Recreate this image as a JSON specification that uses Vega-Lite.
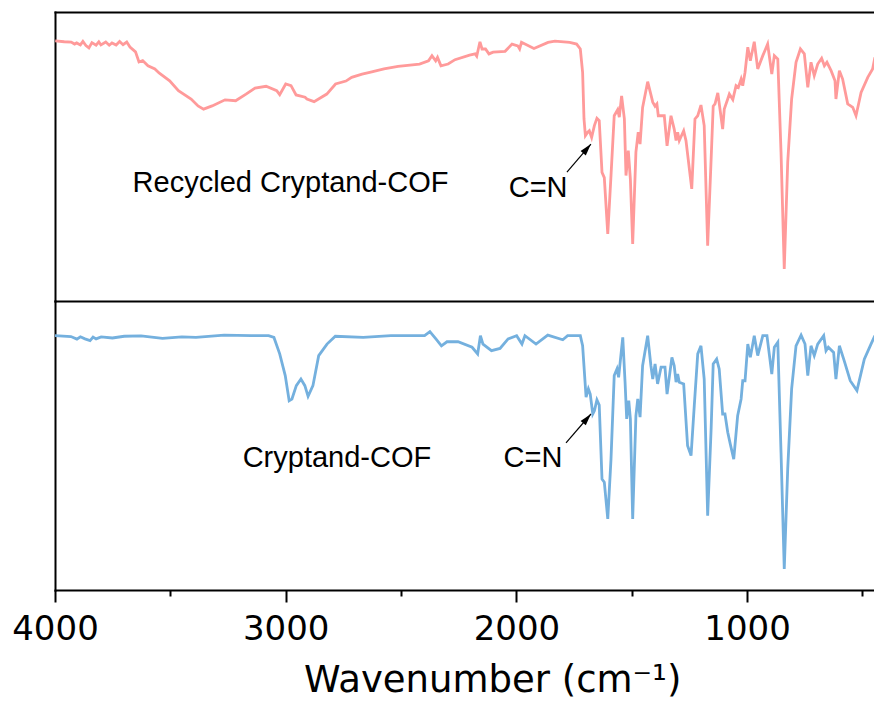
{
  "$schema": "https://vega.github.io/schema/vega-lite/v6.json",
  "padding": {"left": 11, "top": 12, "right": 0, "bottom": 4},
  "background": "white",
  "spacing": 0,
  "title": {"text": "Wavenumber (cm⁻¹)", "orient": "bottom", "anchor": "start", "frame": "group", "dx": 249, "offset": 17, "fontSize": 37, "font": "DejaVu Sans", "fontWeight": "normal", "color": "black", "baseline": "top"},
  "config": {
    "view": {"stroke": null},
    "font": "Liberation Sans",
    "axis": {"domainColor": "black", "domainWidth": 2, "domainCap": "square", "tickColor": "black", "tickWidth": 2, "grid": false, "labelColor": "black", "titleColor": "black", "labelFont": "DejaVu Sans", "titleFont": "DejaVu Sans"}
  },
  "datasets": {
    "recycled": [
      {"wavenumber":3999,"T":90.0},{"wavenumber":3960,"T":89.7},{"wavenumber":3930,"T":89.6},{"wavenumber":3915,"T":88.9},{"wavenumber":3906,"T":89.3},{"wavenumber":3890,"T":88.6},{"wavenumber":3879,"T":89.8},{"wavenumber":3866,"T":88.4},{"wavenumber":3853,"T":87.6},{"wavenumber":3840,"T":89.4},{"wavenumber":3822,"T":88.5},{"wavenumber":3810,"T":89.7},{"wavenumber":3801,"T":88.6},{"wavenumber":3780,"T":89.6},{"wavenumber":3765,"T":88.5},{"wavenumber":3753,"T":89.3},{"wavenumber":3735,"T":88.6},{"wavenumber":3720,"T":89.8},{"wavenumber":3705,"T":88.7},{"wavenumber":3689,"T":89.6},{"wavenumber":3675,"T":87.9},{"wavenumber":3651,"T":86.2},{"wavenumber":3636,"T":82.7},{"wavenumber":3620,"T":83.2},{"wavenumber":3597,"T":81.4},{"wavenumber":3567,"T":80.3},{"wavenumber":3549,"T":78.9},{"wavenumber":3503,"T":76.2},{"wavenumber":3465,"T":72.8},{"wavenumber":3410,"T":69.9},{"wavenumber":3380,"T":67.5},{"wavenumber":3356,"T":66.4},{"wavenumber":3319,"T":67.5},{"wavenumber":3263,"T":69.6},{"wavenumber":3217,"T":69.3},{"wavenumber":3172,"T":71.6},{"wavenumber":3133,"T":73.7},{"wavenumber":3085,"T":74.3},{"wavenumber":3039,"T":72.8},{"wavenumber":3026,"T":71.4},{"wavenumber":3000,"T":75.1},{"wavenumber":2977,"T":74.5},{"wavenumber":2955,"T":71.3},{"wavenumber":2916,"T":70.5},{"wavenumber":2908,"T":69.9},{"wavenumber":2877,"T":69.0},{"wavenumber":2822,"T":71.6},{"wavenumber":2784,"T":75.1},{"wavenumber":2739,"T":76.1},{"wavenumber":2714,"T":77.4},{"wavenumber":2669,"T":78.5},{"wavenumber":2636,"T":79.1},{"wavenumber":2574,"T":80.3},{"wavenumber":2513,"T":81.2},{"wavenumber":2420,"T":82.0},{"wavenumber":2381,"T":83.1},{"wavenumber":2366,"T":84.9},{"wavenumber":2350,"T":83.1},{"wavenumber":2342,"T":84.3},{"wavenumber":2327,"T":81.4},{"wavenumber":2296,"T":82.0},{"wavenumber":2266,"T":83.5},{"wavenumber":2203,"T":85.1},{"wavenumber":2179,"T":85.5},{"wavenumber":2172,"T":84.7},{"wavenumber":2158,"T":89.7},{"wavenumber":2149,"T":87.2},{"wavenumber":2134,"T":87.2},{"wavenumber":2119,"T":85.5},{"wavenumber":2101,"T":86.1},{"wavenumber":2049,"T":86.4},{"wavenumber":2019,"T":88.9},{"wavenumber":1994,"T":88.3},{"wavenumber":1986,"T":87.2},{"wavenumber":1978,"T":89.5},{"wavenumber":1924,"T":87.4},{"wavenumber":1863,"T":89.5},{"wavenumber":1833,"T":89.9},{"wavenumber":1769,"T":89.5},{"wavenumber":1739,"T":88.9},{"wavenumber":1723,"T":87.2},{"wavenumber":1713,"T":79.1},{"wavenumber":1707,"T":63.0},{"wavenumber":1701,"T":57.2},{"wavenumber":1691,"T":58.4},{"wavenumber":1684,"T":58.9},{"wavenumber":1674,"T":56.6},{"wavenumber":1662,"T":60.7},{"wavenumber":1651,"T":63.2},{"wavenumber":1641,"T":62.4},{"wavenumber":1629,"T":44.5},{"wavenumber":1619,"T":42.7},{"wavenumber":1604,"T":23.2},{"wavenumber":1590,"T":43.4},{"wavenumber":1576,"T":64.1},{"wavenumber":1561,"T":66.2},{"wavenumber":1554,"T":63.6},{"wavenumber":1544,"T":71.0},{"wavenumber":1532,"T":63.0},{"wavenumber":1525,"T":43.4},{"wavenumber":1515,"T":52.0},{"wavenumber":1506,"T":42.2},{"wavenumber":1496,"T":19.7},{"wavenumber":1482,"T":51.5},{"wavenumber":1472,"T":58.4},{"wavenumber":1464,"T":54.3},{"wavenumber":1453,"T":67.0},{"wavenumber":1431,"T":75.9},{"wavenumber":1409,"T":68.8},{"wavenumber":1399,"T":67.4},{"wavenumber":1391,"T":68.2},{"wavenumber":1385,"T":64.1},{"wavenumber":1359,"T":64.1},{"wavenumber":1347,"T":53.7},{"wavenumber":1330,"T":64.1},{"wavenumber":1316,"T":59.5},{"wavenumber":1308,"T":55.5},{"wavenumber":1301,"T":58.4},{"wavenumber":1294,"T":55.5},{"wavenumber":1275,"T":58.9},{"wavenumber":1265,"T":55.5},{"wavenumber":1240,"T":38.8},{"wavenumber":1226,"T":63.0},{"wavenumber":1214,"T":64.1},{"wavenumber":1200,"T":67.8},{"wavenumber":1186,"T":60.7},{"wavenumber":1171,"T":19.1},{"wavenumber":1156,"T":49.1},{"wavenumber":1147,"T":67.4},{"wavenumber":1139,"T":68.2},{"wavenumber":1127,"T":72.0},{"wavenumber":1106,"T":59.5},{"wavenumber":1099,"T":66.4},{"wavenumber":1084,"T":69.9},{"wavenumber":1077,"T":71.6},{"wavenumber":1062,"T":69.7},{"wavenumber":1048,"T":74.5},{"wavenumber":1038,"T":73.9},{"wavenumber":1026,"T":76.8},{"wavenumber":1019,"T":74.5},{"wavenumber":1009,"T":79.1},{"wavenumber":997,"T":87.8},{"wavenumber":986,"T":83.1},{"wavenumber":969,"T":89.7},{"wavenumber":954,"T":80.3},{"wavenumber":932,"T":84.9},{"wavenumber":911,"T":88.9},{"wavenumber":893,"T":78.5},{"wavenumber":882,"T":84.9},{"wavenumber":867,"T":83.7},{"wavenumber":853,"T":51.5},{"wavenumber":839,"T":11.1},{"wavenumber":824,"T":48.0},{"wavenumber":807,"T":69.9},{"wavenumber":788,"T":82.6},{"wavenumber":769,"T":87.2},{"wavenumber":752,"T":85.5},{"wavenumber":737,"T":73.9},{"wavenumber":723,"T":82.6},{"wavenumber":709,"T":78.0},{"wavenumber":694,"T":82.0},{"wavenumber":677,"T":84.0},{"wavenumber":665,"T":81.4},{"wavenumber":654,"T":82.6},{"wavenumber":636,"T":79.7},{"wavenumber":619,"T":76.2},{"wavenumber":615,"T":69.9},{"wavenumber":600,"T":79.7},{"wavenumber":586,"T":76.8},{"wavenumber":564,"T":68.2},{"wavenumber":542,"T":67.0},{"wavenumber":528,"T":64.1},{"wavenumber":506,"T":72.2},{"wavenumber":477,"T":77.4},{"wavenumber":456,"T":80.3},{"wavenumber":446,"T":84.3}
    ],
    "fresh": [
      {"wavenumber":4000,"T":88.0},{"wavenumber":3931,"T":87.7},{"wavenumber":3905,"T":86.8},{"wavenumber":3890,"T":87.6},{"wavenumber":3870,"T":86.9},{"wavenumber":3848,"T":86.3},{"wavenumber":3835,"T":87.5},{"wavenumber":3822,"T":86.9},{"wavenumber":3800,"T":87.6},{"wavenumber":3751,"T":87.2},{"wavenumber":3700,"T":87.8},{"wavenumber":3627,"T":87.9},{"wavenumber":3534,"T":87.1},{"wavenumber":3450,"T":87.6},{"wavenumber":3389,"T":87.4},{"wavenumber":3267,"T":88.2},{"wavenumber":3150,"T":88.0},{"wavenumber":3074,"T":88.0},{"wavenumber":3051,"T":87.4},{"wavenumber":3026,"T":81.7},{"wavenumber":3002,"T":74.2},{"wavenumber":2985,"T":65.5},{"wavenumber":2973,"T":66.1},{"wavenumber":2954,"T":70.7},{"wavenumber":2934,"T":73.0},{"wavenumber":2917,"T":70.7},{"wavenumber":2903,"T":67.0},{"wavenumber":2882,"T":70.7},{"wavenumber":2857,"T":81.1},{"wavenumber":2821,"T":85.1},{"wavenumber":2785,"T":87.8},{"wavenumber":2664,"T":87.4},{"wavenumber":2544,"T":88.0},{"wavenumber":2398,"T":88.0},{"wavenumber":2375,"T":89.4},{"wavenumber":2349,"T":86.9},{"wavenumber":2325,"T":84.5},{"wavenumber":2301,"T":85.9},{"wavenumber":2253,"T":85.9},{"wavenumber":2192,"T":84.0},{"wavenumber":2168,"T":81.7},{"wavenumber":2156,"T":88.0},{"wavenumber":2145,"T":85.1},{"wavenumber":2108,"T":82.8},{"wavenumber":2071,"T":83.6},{"wavenumber":2036,"T":86.9},{"wavenumber":1999,"T":88.0},{"wavenumber":1976,"T":85.1},{"wavenumber":1963,"T":88.0},{"wavenumber":1915,"T":85.1},{"wavenumber":1864,"T":88.2},{"wavenumber":1799,"T":86.6},{"wavenumber":1778,"T":88.0},{"wavenumber":1723,"T":88.0},{"wavenumber":1713,"T":84.5},{"wavenumber":1698,"T":66.7},{"wavenumber":1688,"T":69.6},{"wavenumber":1680,"T":67.8},{"wavenumber":1669,"T":60.9},{"wavenumber":1662,"T":62.0},{"wavenumber":1651,"T":65.8},{"wavenumber":1641,"T":64.0},{"wavenumber":1629,"T":38.4},{"wavenumber":1619,"T":37.3},{"wavenumber":1604,"T":24.6},{"wavenumber":1590,"T":45.3},{"wavenumber":1576,"T":74.2},{"wavenumber":1564,"T":76.5},{"wavenumber":1557,"T":73.6},{"wavenumber":1539,"T":87.4},{"wavenumber":1529,"T":71.9},{"wavenumber":1522,"T":59.2},{"wavenumber":1513,"T":65.5},{"wavenumber":1506,"T":59.2},{"wavenumber":1496,"T":24.6},{"wavenumber":1482,"T":60.3},{"wavenumber":1474,"T":66.1},{"wavenumber":1464,"T":59.8},{"wavenumber":1453,"T":77.6},{"wavenumber":1431,"T":88.0},{"wavenumber":1417,"T":77.6},{"wavenumber":1409,"T":73.0},{"wavenumber":1399,"T":78.2},{"wavenumber":1388,"T":71.3},{"wavenumber":1373,"T":77.1},{"wavenumber":1356,"T":77.1},{"wavenumber":1347,"T":67.8},{"wavenumber":1326,"T":80.5},{"wavenumber":1316,"T":77.6},{"wavenumber":1308,"T":71.9},{"wavenumber":1301,"T":74.7},{"wavenumber":1294,"T":71.9},{"wavenumber":1275,"T":71.3},{"wavenumber":1258,"T":49.9},{"wavenumber":1243,"T":46.5},{"wavenumber":1229,"T":63.8},{"wavenumber":1214,"T":81.7},{"wavenumber":1200,"T":84.5},{"wavenumber":1186,"T":73.0},{"wavenumber":1171,"T":25.7},{"wavenumber":1156,"T":55.7},{"wavenumber":1147,"T":78.2},{"wavenumber":1132,"T":79.9},{"wavenumber":1121,"T":76.5},{"wavenumber":1106,"T":60.9},{"wavenumber":1096,"T":60.9},{"wavenumber":1084,"T":54.6},{"wavenumber":1073,"T":50.5},{"wavenumber":1058,"T":45.3},{"wavenumber":1041,"T":60.3},{"wavenumber":1026,"T":66.1},{"wavenumber":1019,"T":72.4},{"wavenumber":1009,"T":72.4},{"wavenumber":997,"T":85.1},{"wavenumber":986,"T":80.5},{"wavenumber":969,"T":88.0},{"wavenumber":954,"T":81.1},{"wavenumber":932,"T":88.0},{"wavenumber":914,"T":88.0},{"wavenumber":893,"T":74.7},{"wavenumber":882,"T":84.0},{"wavenumber":867,"T":85.7},{"wavenumber":853,"T":47.6},{"wavenumber":839,"T":7.3},{"wavenumber":824,"T":41.9},{"wavenumber":807,"T":69.6},{"wavenumber":788,"T":84.5},{"wavenumber":766,"T":88.2},{"wavenumber":749,"T":85.1},{"wavenumber":737,"T":74.2},{"wavenumber":723,"T":84.5},{"wavenumber":709,"T":81.1},{"wavenumber":694,"T":85.1},{"wavenumber":668,"T":88.0},{"wavenumber":658,"T":82.8},{"wavenumber":648,"T":84.0},{"wavenumber":625,"T":82.2},{"wavenumber":615,"T":73.0},{"wavenumber":600,"T":84.5},{"wavenumber":579,"T":79.3},{"wavenumber":553,"T":72.4},{"wavenumber":524,"T":69.0},{"wavenumber":492,"T":79.9},{"wavenumber":463,"T":85.1},{"wavenumber":446,"T":88.0}
    ],
    "labelsTop": [
      {"wavenumber":2979,"T":37.6,"label":"Recycled Cryptand-COF"},
      {"wavenumber":1906,"T":36.0,"label":"C=N"}
    ],
    "labelsBottom": [
      {"wavenumber":2778,"T":42.6,"label":"Cryptand-COF"},
      {"wavenumber":1928,"T":42.6,"label":"C=N"}
    ],
    "arrowTop": [{"wn_start":1781,"T_start":44.6,"wn_end":1677,"T_end":54.3}],
    "arrowBottom": [{"wn_start":1785,"T_start":50.9,"wn_end":1677,"T_end":60.9}]
  },
  "vconcat": [
    {
      "width": 819, "height": 289,
      "layer": [
        {
          "data": {"name": "recycled"},
          "mark": {"type": "line", "color": "#FF9A9A", "strokeWidth": 2.8, "clip": true},
          "encoding": {
            "x": {"field": "wavenumber", "type": "quantitative", "scale": {"domain": [4000, 450], "nice": false, "zero": false}, "axis": {"orient": "bottom", "ticks": false, "labels": false, "title": null}},
            "y": {"field": "T", "type": "quantitative", "scale": {"domain": [0, 100], "nice": false, "zero": false}, "axis": {"orient": "left", "ticks": false, "labels": false, "domain": true, "title": null}}
          }
        },
        {
          "data": {"name": "labelsTop"},
          "mark": {"type": "text", "fontSize": 29, "color": "black", "baseline": "alphabetic", "align": "center", "font": "Liberation Sans"},
          "encoding": {
            "x": {"field": "wavenumber", "type": "quantitative", "scale": {"domain": [4000, 450], "nice": false, "zero": false}, "axis": {"orient": "top", "ticks": false, "labels": false, "title": null}},
            "y": {"field": "T", "type": "quantitative", "scale": {"domain": [0, 100], "nice": false, "zero": false}, "axis": {"orient": "left", "ticks": false, "labels": false, "domain": true, "title": null}},
            "text": {"field": "label"}
          }
        },
        {
          "data": {"name": "arrowTop"},
          "mark": {"type": "rule", "color": "black", "strokeWidth": 1.2},
          "encoding": {
            "x": {"field": "wn_start", "type": "quantitative", "scale": {"domain": [4000, 450], "nice": false, "zero": false}, "axis": null},
            "y": {"field": "T_start", "type": "quantitative", "scale": {"domain": [0, 100], "nice": false, "zero": false}, "axis": {"orient": "left", "ticks": false, "labels": false, "domain": true, "title": null}},
            "x2": {"field": "wn_end"},
            "y2": {"field": "T_end"}
          }
        },
        {
          "data": {"name": "arrowTop"},
          "mark": {"type": "point", "shape": "M0,0L-0.45,1.6L0.45,1.6Z", "filled": true, "color": "black", "opacity": 1, "size": 225, "angle": 40},
          "encoding": {
            "x": {"field": "wn_end", "type": "quantitative", "scale": {"domain": [4000, 450], "nice": false, "zero": false}, "axis": null},
            "y": {"field": "T_end", "type": "quantitative", "scale": {"domain": [0, 100], "nice": false, "zero": false}, "axis": {"orient": "left", "ticks": false, "labels": false, "domain": true, "title": null}}
          }
        }
      ],
      "resolve": {"axis": {"x": "independent", "y": "shared"}}
    },
    {
      "width": 819, "height": 289,
      "layer": [
        {
          "data": {"name": "fresh"},
          "mark": {"type": "line", "color": "#74B0DE", "strokeWidth": 2.8, "clip": true},
          "encoding": {
            "x": {"field": "wavenumber", "type": "quantitative", "scale": {"domain": [4000, 450], "nice": false, "zero": false},
              "axis": {"orient": "bottom", "values": [4000, 3000, 2000, 1000], "tickSize": 12, "labelFontSize": 34, "labelPadding": 10, "labelFlush": false, "labelOverlap": false, "format": "d", "title": null}},
            "y": {"field": "T", "type": "quantitative", "scale": {"domain": [0, 100], "nice": false, "zero": false}, "axis": {"orient": "left", "ticks": false, "labels": false, "domain": true, "title": null}}
          }
        },
        {
          "data": {"name": "labelsBottom"},
          "mark": {"type": "text", "fontSize": 29, "color": "black", "baseline": "alphabetic", "align": "center", "font": "Liberation Sans"},
          "encoding": {
            "x": {"field": "wavenumber", "type": "quantitative", "scale": {"domain": [4000, 450], "nice": false, "zero": false},
              "axis": {"orient": "bottom", "values": [3500, 2500, 1500, 500], "tickSize": 6, "labels": false, "domain": false, "title": null}},
            "y": {"field": "T", "type": "quantitative", "scale": {"domain": [0, 100], "nice": false, "zero": false}, "axis": {"orient": "left", "ticks": false, "labels": false, "domain": true, "title": null}},
            "text": {"field": "label"}
          }
        },
        {
          "data": {"name": "arrowBottom"},
          "mark": {"type": "rule", "color": "black", "strokeWidth": 1.2},
          "encoding": {
            "x": {"field": "wn_start", "type": "quantitative", "scale": {"domain": [4000, 450], "nice": false, "zero": false}, "axis": null},
            "y": {"field": "T_start", "type": "quantitative", "scale": {"domain": [0, 100], "nice": false, "zero": false}, "axis": {"orient": "left", "ticks": false, "labels": false, "domain": true, "title": null}},
            "x2": {"field": "wn_end"},
            "y2": {"field": "T_end"}
          }
        },
        {
          "data": {"name": "arrowBottom"},
          "mark": {"type": "point", "shape": "M0,0L-0.45,1.6L0.45,1.6Z", "filled": true, "color": "black", "opacity": 1, "size": 225, "angle": 40},
          "encoding": {
            "x": {"field": "wn_end", "type": "quantitative", "scale": {"domain": [4000, 450], "nice": false, "zero": false}, "axis": null},
            "y": {"field": "T_end", "type": "quantitative", "scale": {"domain": [0, 100], "nice": false, "zero": false}, "axis": {"orient": "left", "ticks": false, "labels": false, "domain": true, "title": null}}
          }
        }
      ],
      "resolve": {"axis": {"x": "independent", "y": "shared"}}
    }
  ]
}
